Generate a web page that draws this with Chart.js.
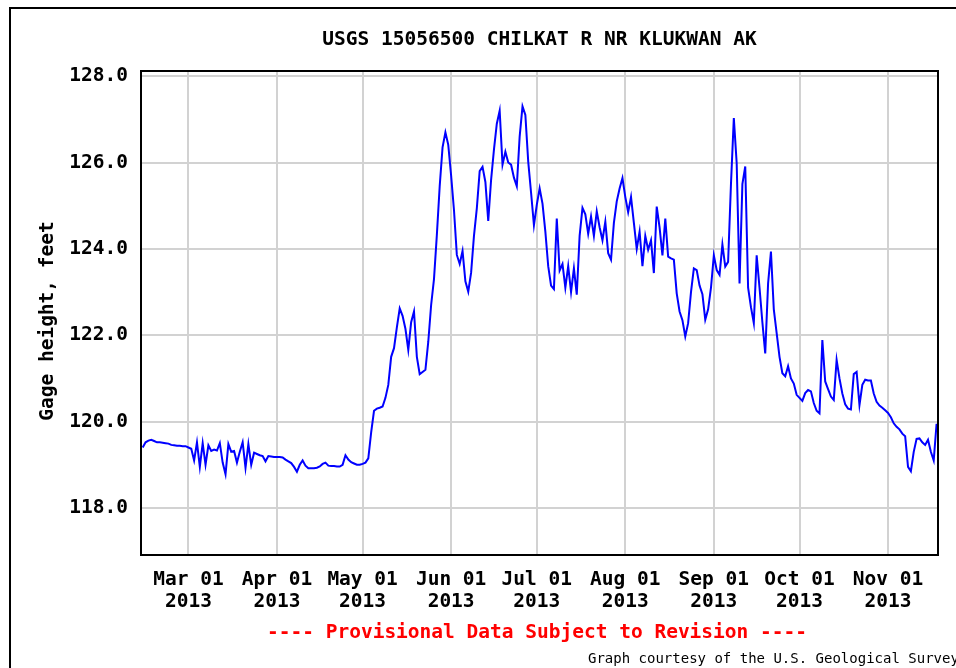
<!DOCTYPE html>
<html>
<head>
<meta charset="utf-8">
<title>USGS 15056500 CHILKAT R NR KLUKWAN AK</title>
<script src="https://cdn.jsdelivr.net/npm/chart.js@4.4.1/dist/chart.umd.min.js"></script>
<style>
  html, body { margin: 0; padding: 0; background: #fff; }
  #wrap { width: 956px; height: 668px; }
</style>
</head>
<body>
<div id="wrap"><canvas id="chart-gage" width="956" height="668"></canvas></div>
<script>
/* Gage height, daily readings from Feb 13 2013 (day -16, Mar 01 = day 0) */
var firstDay = -16;
var gageHeight = [
  119.40, 119.52, 119.56, 119.58, 119.55, 119.52, 119.52, 119.51, 119.50, 119.49, 119.46, 119.45, 119.44, 119.44, 119.43, 119.43,
  119.40, 119.37, 119.10, 119.52, 118.95, 119.50, 119.00, 119.45, 119.32, 119.35,
  119.33, 119.50, 119.05, 118.78, 119.48, 119.30, 119.32, 119.05, 119.30, 119.52,
  118.93, 119.48, 119.00, 119.28, 119.25, 119.22, 119.20, 119.08, 119.20, 119.19,
  119.18, 119.18, 119.18, 119.17, 119.12, 119.08, 119.04, 118.95, 118.84, 119.00,
  119.10, 118.98, 118.92, 118.92, 118.92, 118.93, 118.96, 119.02, 119.05, 118.98,
  118.97, 118.97, 118.96, 118.96, 119.00, 119.22, 119.12, 119.06, 119.03, 119.00,
  119.00, 119.02, 119.05, 119.15, 119.75, 120.25, 120.30, 120.32, 120.35, 120.55,
  120.85, 121.50, 121.70, 122.18, 122.62, 122.45, 122.15, 121.66, 122.30, 122.55,
  121.50, 121.10, 121.15, 121.20, 121.85, 122.70, 123.30, 124.32, 125.45, 126.35,
  126.70, 126.41, 125.70, 124.90, 123.86, 123.65, 123.95, 123.25, 123.01, 123.45,
  124.30, 124.94, 125.80, 125.90, 125.55, 124.65, 125.60, 126.30, 126.90, 127.20,
  125.95, 126.25, 126.00, 125.95, 125.65, 125.45, 126.60, 127.30, 127.10, 126.02,
  125.30, 124.55, 125.02, 125.40, 125.05, 124.40, 123.60, 123.15, 123.07, 124.70,
  123.50, 123.65, 123.10, 123.60, 123.00, 123.55, 122.94, 124.30, 124.95, 124.80,
  124.35, 124.75, 124.30, 124.87, 124.50, 124.20, 124.63, 123.90, 123.75, 124.60,
  125.10, 125.40, 125.64, 125.20, 124.85, 125.20, 124.60, 124.00, 124.40, 123.60,
  124.30, 123.98, 124.20, 123.44, 124.98, 124.50, 123.85, 124.70, 123.82, 123.78,
  123.75, 122.97, 122.55, 122.35, 121.97, 122.28, 123.00, 123.55, 123.51, 123.15,
  122.95, 122.36, 122.60, 123.10, 123.85, 123.51, 123.40, 124.10, 123.59, 123.70,
  125.50, 127.03, 125.99, 123.20, 125.50, 125.91, 123.10, 122.65, 122.28, 123.85,
  123.10, 122.30, 121.58, 123.20, 123.94, 122.60, 122.05, 121.50, 121.12, 121.05,
  121.28, 121.00, 120.88, 120.62, 120.55, 120.48, 120.66, 120.73, 120.70, 120.43,
  120.25, 120.19, 121.89, 120.93, 120.75, 120.58, 120.50, 121.43, 121.00, 120.65,
  120.40, 120.30, 120.28, 121.10, 121.15, 120.38, 120.85, 120.97, 120.95, 120.95,
  120.65, 120.46, 120.37, 120.32, 120.26, 120.20, 120.10, 119.96, 119.88, 119.82,
  119.72, 119.66, 118.95, 118.85, 119.30, 119.60, 119.61, 119.52, 119.46, 119.58,
  119.30, 119.10, 119.95
];

/* Month ticks (days from Mar 01) and their two-line labels */
var monthDays = [0, 31, 61, 92, 122, 153, 184, 214, 245];
var monthNames = ["Mar 01", "Apr 01", "May 01", "Jun 01", "Jul 01", "Aug 01", "Sep 01", "Oct 01", "Nov 01"];
var yearLabel = "2013";
var heightTicks = [118, 120, 122, 124, 126, 128];

var titleText = "USGS 15056500 CHILKAT R NR KLUKWAN AK";
var yTitleText = "Gage height, feet";
var noticeText = "---- Provisional Data Subject to Revision ----";
var courtesyText = "Graph courtesy of the U.S. Geological Survey";

var mono = "'DejaVu Sans Mono', 'Liberation Mono', monospace";

var puntos = [];
for (let i = 0; i < gageHeight.length; i++) {
  puntos.push({ x: firstDay + i, y: gageHeight[i] });
}

// Frame, titles and footer text drawn straight onto the canvas
var usgsDecor = {
  id: "usgsDecor",
  beforeDraw: function(chart) {
    var c = chart.ctx;
    c.save();
    c.fillStyle = "#fff";
    c.fillRect(0, 0, chart.width, chart.height);
    c.restore();
  },
  afterDatasetsDraw: function(chart) {
    var c = chart.ctx, a = chart.chartArea;
    c.save();
    c.strokeStyle = "#000";
    c.lineWidth = 2;
    c.strokeRect(a.left, a.top, a.right - a.left, a.bottom - a.top);
    c.restore();
  },
  afterDraw: function(chart) {
    var c = chart.ctx, a = chart.chartArea;
    c.save();
    // outer frame
    c.strokeStyle = "#000";
    c.lineWidth = 2;
    c.beginPath();
    c.moveTo(10, chart.height);
    c.lineTo(10, 8);
    c.lineTo(chart.width, 8);
    c.stroke();

    c.fillStyle = "#000";
    c.font = "bold 19.5px " + mono;
    c.textAlign = "center";
    c.textBaseline = "middle";
    c.fillText(titleText, (a.left + a.right) / 2, 40);

    c.save();
    c.translate(48, 321);
    c.rotate(-Math.PI / 2);
    c.fillText(yTitleText, 0, 0);
    c.restore();

    c.fillStyle = "#ff0000";
    c.fillText(noticeText, 537, 633);

    c.fillStyle = "#000";
    c.font = "14px " + mono;
    c.textAlign = "left";
    c.fillText(courtesyText, 588, 659);
    c.restore();
  }
};

var ctx = document.getElementById("chart-gage").getContext("2d");

new Chart(ctx, {
  type: "line",
  data: {
    datasets: [{
      label: "Gage height",
      data: puntos,
      borderColor: "#0000ff",
      borderWidth: 2,
      pointRadius: 0,
      tension: 0,
      fill: false
    }]
  },
  options: {
    responsive: false,
    animation: false,
    layout: {
      padding: { top: 71, right: 18, bottom: 0, left: 0 }
    },
    plugins: {
      legend: { display: false },
      title: { display: false },
      tooltip: { enabled: false }
    },
    scales: {
      x: {
        type: "linear",
        min: -16.6,
        max: 262.5,
        afterBuildTicks: function(scale) {
          scale.ticks = monthDays.map(function(d) { return { value: d }; });
        },
        afterFit: function(scale) { scale.height = 113; },
        grid: {
          color: "#d2d2d2",
          lineWidth: 2,
          drawTicks: false
        },
        border: { display: false },
        ticks: {
          autoSkip: false,
          maxRotation: 0,
          padding: 14,
          color: "#000",
          font: { family: mono, size: 19.5, weight: "bold", lineHeight: "22px" },
          callback: function(value, index) {
            return [monthNames[index], yearLabel];
          }
        }
      },
      y: {
        type: "linear",
        min: 116.91,
        max: 128.12,
        afterBuildTicks: function(scale) {
          scale.ticks = heightTicks.map(function(v) { return { value: v }; });
        },
        afterFit: function(scale) { scale.width = 141; },
        grid: {
          color: "#d2d2d2",
          lineWidth: 2,
          drawTicks: false
        },
        border: { display: false },
        ticks: {
          padding: 13,
          color: "#000",
          font: { family: mono, size: 19.5, weight: "bold" },
          callback: function(value) {
            return Number(value).toFixed(1);
          }
        }
      }
    }
  },
  plugins: [usgsDecor]
});
</script>
</body>
</html>
